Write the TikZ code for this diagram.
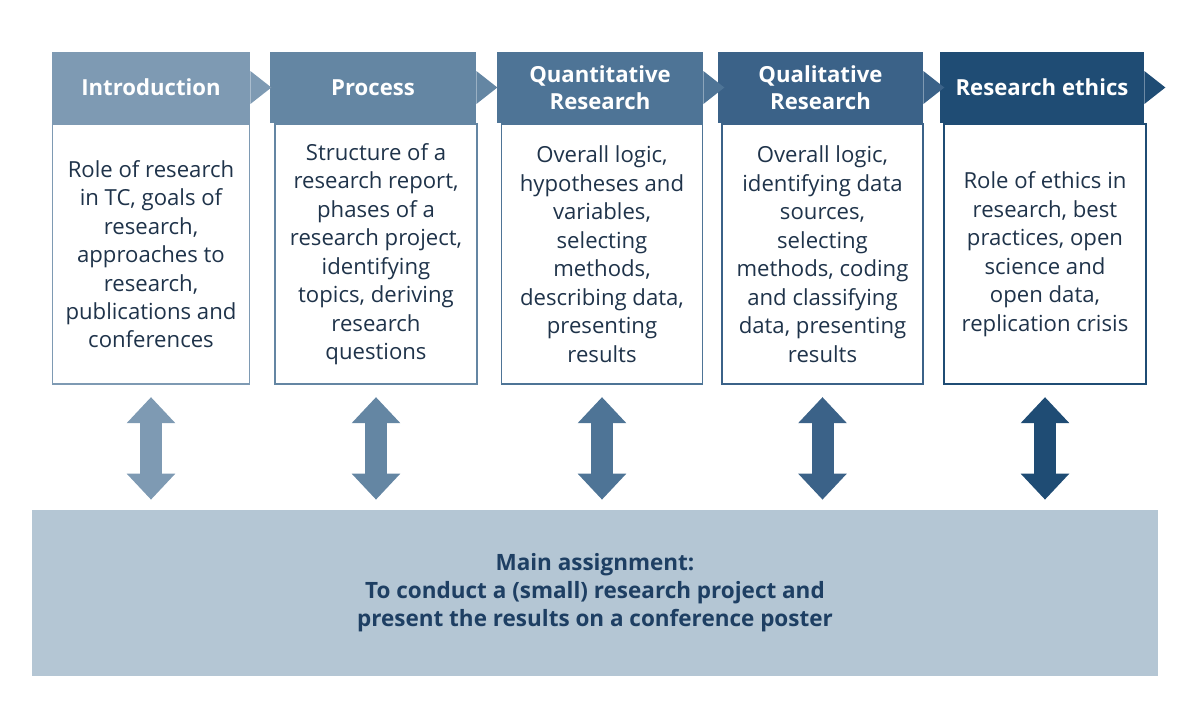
\documentclass[tikz,border=0pt]{standalone}
\usepackage{fontspec}
\setmainfont{Open Sans}
\usepackage{xcolor}
\usetikzlibrary{arrows.meta,calc,positioning}
\definecolor{stepA}{HTML}{7E9AB3}
\definecolor{stepB}{HTML}{6486A3}
\definecolor{stepC}{HTML}{4E7496}
\definecolor{stepD}{HTML}{3B6288}
\definecolor{stepE}{HTML}{1F4C74}
\definecolor{mainfill}{HTML}{B4C6D4}
\definecolor{maintext}{HTML}{1E3F63}
\definecolor{bodytext}{HTML}{1F334A}
\tikzset{%
	header/.style  = {rectangle, minimum height=71*0.02cm, inner sep=0pt, text=white, font=\fontsize{12.6}{15.4}\selectfont\bfseries, align=center},
	topic/.style   = {draw, rectangle, fill=white, line width=1pt, minimum height=260*0.02cm, inner sep=0pt, align=center, text=bodytext, font=\fontsize{12.6}{16.2}\selectfont},
	assign/.style  = {rectangle, fill=mainfill, inner sep=0pt, align=center, text=maintext, font=\fontsize{12.8}{15.9}\selectfont\bfseries},
	dblarrow/.style= {line width=22*0.02cm, {Triangle[width=47*0.02cm,length=26*0.02cm]}-{Triangle[width=47*0.02cm,length=26*0.02cm]}},
}

\begin{document}
\begin{tikzpicture}[x=0.02cm,y=-0.02cm]
	\useasboundingbox (0,0) rectangle (1200,708);
	
	% headers
	\node[header, fill=stepA, minimum width=198*0.02cm] (head1) at (151,87.5) {Introduction};
	\node[header, fill=stepB, minimum width=206*0.02cm] (head2) at (373,87.5) {Process};
	\node[header, fill=stepC, minimum width=206*0.02cm] (head3) at (600,87.5) {Quantitative\\Research};
	\node[header, fill=stepD, minimum width=205*0.02cm] (head4) at (820.5,87.5) {Qualitative\\Research};
	\node[header, fill=stepE, minimum width=204*0.02cm] (head5) at (1042,87.5) {Research ethics};
	\foreach \i/\c in {1/stepA,2/stepB,3/stepC,4/stepD,5/stepE}
		\fill[\c] ($(head\i.east)+(0,-16.5)$) -- ++(21,16.5) -- ($(head\i.east)+(0,16.5)$) -- cycle;
	
	% topics
	\node[topic, draw=stepA, minimum width=197*0.02cm, below=0pt of head1] (box1) {Role of research\\in TC, goals of\\research,\\approaches to\\research,\\publications and\\conferences};
	\node[topic, draw=stepB, minimum width=202*0.02cm, below=0pt of head2, xshift=3*0.02cm] (box2) {Structure of a\\research report,\\phases of a\\research project,\\identifying\\topics, deriving\\research\\questions};
	\node[topic, draw=stepC, minimum width=201*0.02cm, below=0pt of head3, xshift=2*0.02cm] (box3) {Overall logic,\\hypotheses and\\variables,\\selecting\\methods,\\describing data,\\presenting\\results};
	\node[topic, draw=stepD, minimum width=201*0.02cm, below=0pt of head4, xshift=2*0.02cm] (box4) {Overall logic,\\identifying data\\sources,\\selecting\\methods, coding\\and classifying\\data, presenting\\results};
	\node[topic, draw=stepE, minimum width=202*0.02cm, below=0pt of head5, xshift=3*0.02cm] (box5) {Role of ethics in\\research, best\\practices, open\\science and\\open data,\\replication crisis};
	
	% main assignment
	\node[assign, minimum width=1126*0.02cm, minimum height=166*0.02cm] (main) at (595,593) {Main assignment:\\To conduct a (small) research project and\\present the results on a conference poster};
	
	\foreach \i/\c in {1/stepA,2/stepB,3/stepC,4/stepD,5/stepE}
		\draw[dblarrow, \c] ($(box\i.south)+(0,12)$) -- ($(box\i.south|-main.north)+(0,-10)$);
	
\end{tikzpicture}
\end{document}
